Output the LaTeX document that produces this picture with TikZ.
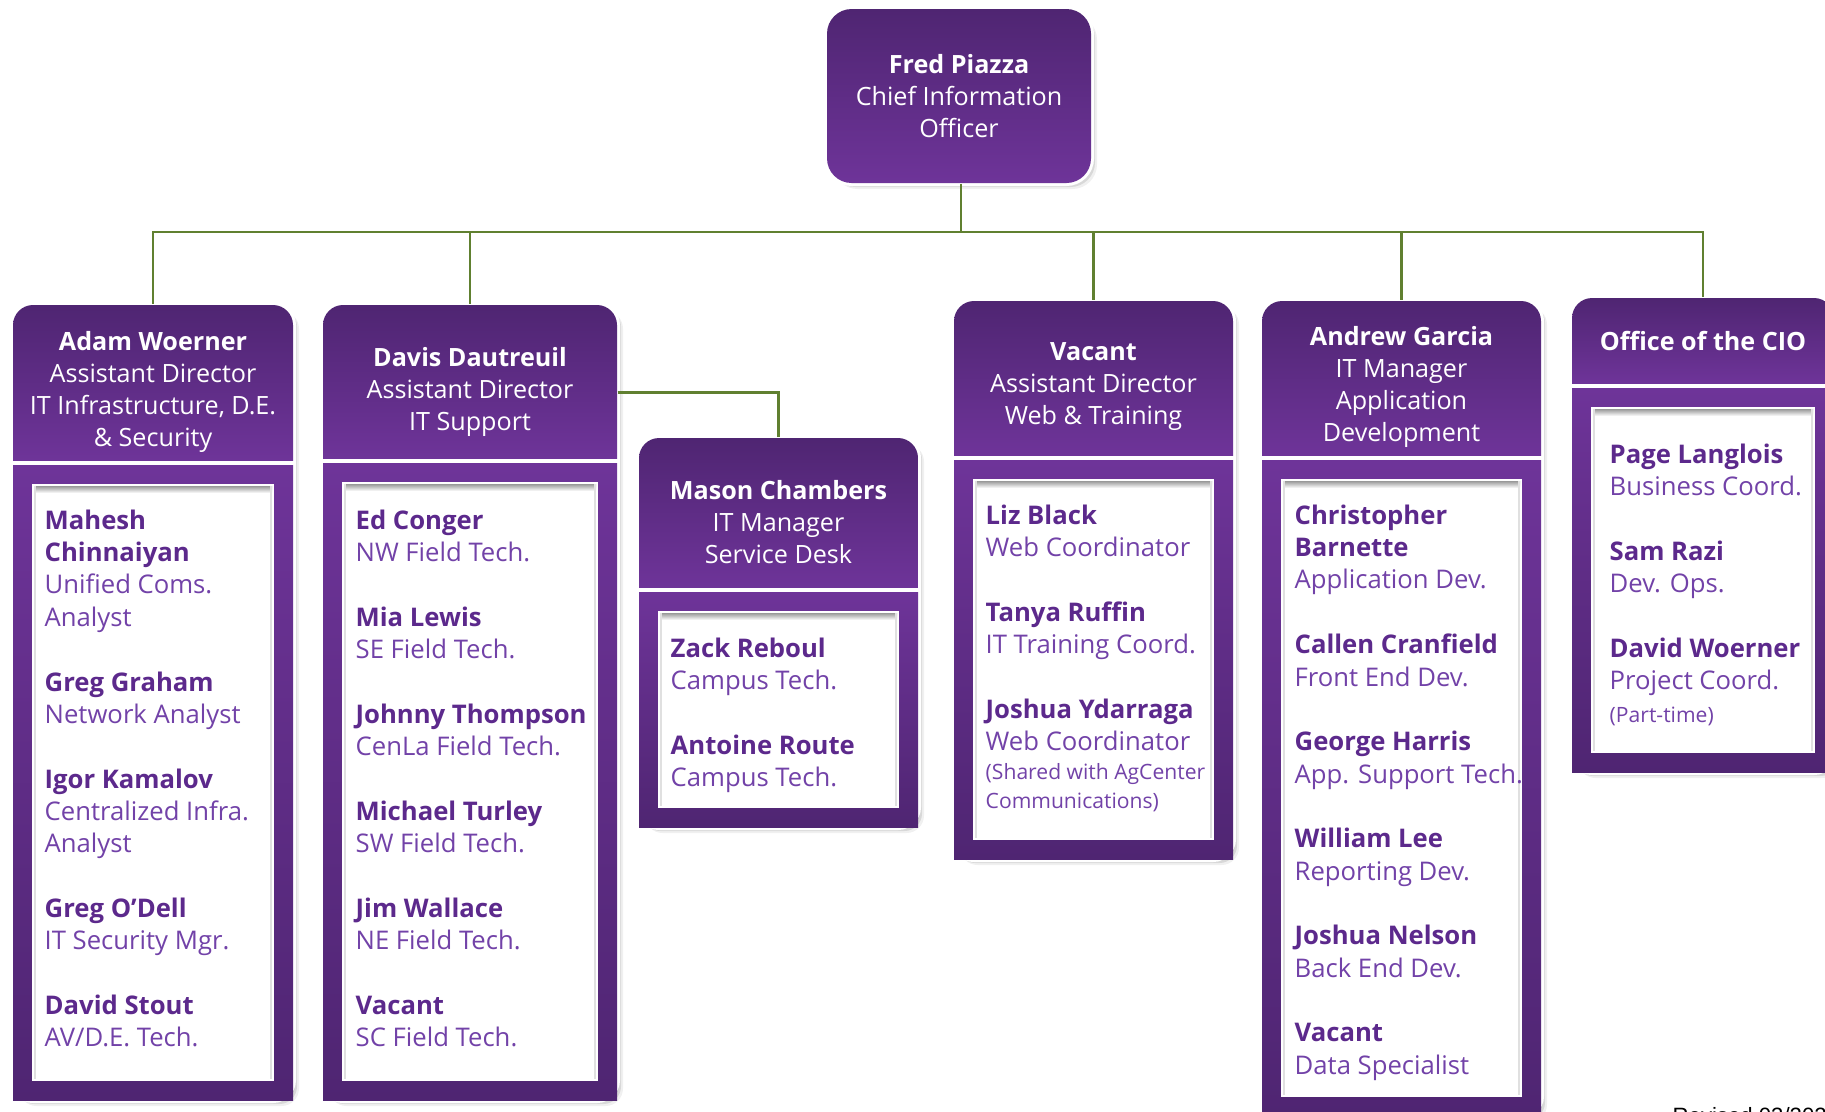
\documentclass[tikz,border=0pt]{standalone}
\usepackage{fontspec}
\setmainfont{Open Sans}
\newfontfamily\revfont{Liberation Sans}
\usetikzlibrary{backgrounds,calc}

\definecolor{cioDark}{RGB}{79,37,114}
\definecolor{cioLight}{RGB}{110,52,153}
\definecolor{cioName}{RGB}{92,41,140}
\definecolor{cioRole}{RGB}{114,66,168}
\definecolor{cioLink}{RGB}{96,128,48}

\tikzset{
  head/.style={text=white, align=center, inner sep=0pt, font=\fontsize{7.15}{9.1}\selectfont},
  staff/.style={anchor=north west, align=left, inner sep=0pt, text=cioRole, font=\fontsize{7.3}{9.2}\selectfont},
  link/.style={draw=cioLink, line width=0.6pt},
}
\newcommand\nm[1]{\textcolor{cioName}{\textbf{#1}}}
\newcommand\sm[1]{{\fontsize{6}{8.3}\selectfont #1}}
\newcommand\blankrow{\\[9.2pt]}

% column: name, x1, x2, top, header bottom, body bottom, text drop, header text
\newcommand\orgcol[8]{%
  \node[minimum width={(#3-#2)*0.01cm}, minimum height={(#5-#4)*0.01cm}, inner sep=0pt,
    label={[head, yshift=-#7*0.01cm]center:{#8}}] (#1) at ({(#2+#3)/2},{(#4+#5)/2}) {};
  \begin{scope}[on background layer]
    \foreach \sh/\op in {6/.06,4/.1,2/.14}
      \fill[black, opacity=\op, rounded corners=5pt] (#2+\sh,#4+\sh) rectangle (#3+\sh,#6+\sh);
    \fill[white, rounded corners=6.5pt] (#2-3,#4-3) rectangle (#3+3,#6+3);
    \begin{scope}
      \clip[rounded corners=5.7pt] (#2,#4) rectangle (#3,#5+30);
      \shade[top color=cioDark, bottom color=cioLight] (#2,#4) rectangle (#3,#5);
    \end{scope}
    \shade[top color=cioLight, bottom color=cioDark] (#2,#5+5) rectangle (#3,#6);
    \fill[white] (#2+19,#5+24) rectangle (#3-19,#6-19);
    \shade[top color=black!40, bottom color=white] (#2+21,#5+26) rectangle (#3-21,#5+33);
    \fill[black!12] (#2+21,#5+26) rectangle (#2+23,#6-21);
    \fill[black!12] (#3-23,#5+26) rectangle (#3-21,#6-21);
  \end{scope}
}

\begin{document}
\begin{tikzpicture}[x=0.01cm, y=-0.01cm]
\useasboundingbox (0,0) rectangle (1825,1111);

% chief
\node[head, minimum width=2.64cm, minimum height=1.74cm] (fred) at (959,96) {\textbf{Fred Piazza}\\Chief Information\\Officer};
\begin{scope}[on background layer]
  \foreach \sh/\op in {6/.06,4/.1,2/.14}
    \fill[black, opacity=\op, rounded corners=7pt] (827+\sh,9+\sh) rectangle (1091+\sh,183+\sh);
  \fill[white, rounded corners=7.8pt] (824,6) rectangle (1094,186);
  \shade[top color=cioDark, bottom color=cioLight, rounded corners=7pt] (827,9) rectangle (1091,183);
\end{scope}

% columns
\orgcol{adam}{13}{293}{305}{460}{1100}{9}{\textbf{Adam Woerner}\\Assistant Director\\IT Infrastructure, D.E.\\\& Security}
\orgcol{davis}{323}{617}{305}{458}{1100}{10}{\textbf{Davis Dautreuil}\\Assistant Director\\IT Support}
\orgcol{mason}{639}{918}{438}{587}{827}{10}{\textbf{Mason Chambers}\\IT Manager\\Service Desk}
\orgcol{vacant}{954}{1233}{301}{455}{859}{9}{\textbf{Vacant}\\Assistant Director\\Web \& Training}
\orgcol{andrew}{1262}{1541}{301}{455}{1116}{9}{\textbf{Andrew Garcia}\\IT Manager\\Application\\Development}
\orgcol{office}{1572}{1834}{298}{383}{772}{0}{\textbf{Office of the CIO}}

% staff lists
\node[staff] (adamstaff) at (44,509) {\nm{Mahesh}\\\nm{Chinnaiyan}\\Unified Coms.\\Analyst\blankrow
  \nm{Greg Graham}\\Network Analyst\blankrow\nm{Igor Kamalov}\\Centralized Infra.\\Analyst\blankrow
  \nm{Greg O’Dell}\\IT Security Mgr.\blankrow\nm{David Stout}\\AV/D.E. Tech.};
\node[staff] (davisstaff) at (355,509) {\nm{Ed Conger}\\NW Field Tech.\blankrow\nm{Mia Lewis}\\SE Field Tech.\blankrow
  \nm{Johnny Thompson}\\CenLa Field Tech.\blankrow\nm{Michael Turley}\\SW Field Tech.\blankrow
  \nm{Jim Wallace}\\NE Field Tech.\blankrow\nm{Vacant}\\SC Field Tech.};
\node[staff] (masonstaff) at (670,637) {\nm{Zack Reboul}\\Campus Tech.\blankrow\nm{Antoine Route}\\Campus Tech.};
\node[staff] (vacantstaff) at (985,504) {\nm{Liz Black}\\Web Coordinator\blankrow\nm{Tanya Ruffin}\\IT Training Coord.\blankrow
  \nm{Joshua Ydarraga}\\Web Coordinator\\[-1pt]\sm{(Shared with AgCenter}\\[-1pt]\sm{Communications)}};
\node[staff] (andrewstaff) at (1294,504) {\nm{Christopher}\\\nm{Barnette}\\Application Dev.\blankrow
  \nm{Callen Cranfield}\\Front End Dev.\blankrow\nm{George Harris}\\App. Support Tech.\blankrow
  \nm{William Lee}\\Reporting Dev.\blankrow\nm{Joshua Nelson}\\Back End Dev.\blankrow\nm{Vacant}\\Data Specialist};
\node[staff] (officestaff) at (1609,443) {\nm{Page Langlois}\\Business Coord.\blankrow\nm{Sam Razi}\\Dev. Ops.\blankrow
  \nm{David Woerner}\\Project Coord.\\\sm{(Part-time)}};

% connectors
\coordinate (bus) at (961,232);
\draw[link] (bus |- fred.south) -- (bus);
\foreach \c in {adam,davis,vacant,andrew,office}
  \draw[link] (bus) -| (\c.north);
\draw[link] ($(davis.east)+(0,11)$) -| (mason.north);

\node[anchor=north west, inner sep=0pt, font=\revfont\fontsize{6.3}{7}\selectfont] (revised) at (1672,1107) {Revised 03/202};
\end{tikzpicture}
\end{document}
